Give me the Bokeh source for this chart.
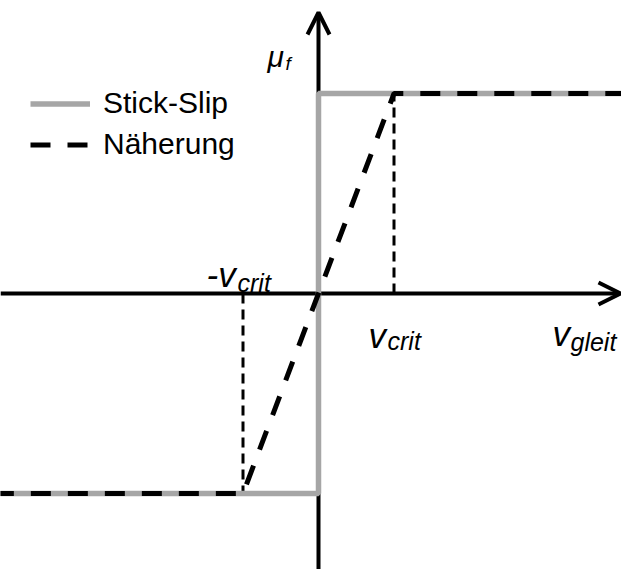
from bokeh.plotting import figure
from bokeh.models import Range1d, Arrow, OpenHead, Label
from bokeh.embed import file_html
from bokeh.resources import INLINE

# Friction characteristic: stick-slip step vs. linear approximation
v_crit = 1.0          # critical sliding speed (normalised)
mu_f = 1.0            # friction coefficient level (normalised)
v_min, v_max = -4.3, 4.2

stick_v = [v_min, 0.0, 0.0, v_max]
stick_mu = [-mu_f, -mu_f, mu_f, mu_f]

approx_v = [v_min, -v_crit, v_crit, v_max]
approx_mu = [-mu_f, -mu_f, mu_f, mu_f]

series_names = ["Stick-Slip", "Näherung"]

W, H = 621, 569
ORIGIN_X, ORIGIN_Y = 318, 293      # canvas position of the origin
SX, SY = 75.5, 200.0               # pixels per unit of v and mu

x_lo, x_hi = -ORIGIN_X / SX, (W - ORIGIN_X) / SX
y_lo, y_hi = -(H - ORIGIN_Y) / SY, ORIGIN_Y / SY


def px_x(px):
    return (px - ORIGIN_X) / SX


def px_y(py):
    return (ORIGIN_Y - py) / SY


p = figure(width=W, height=H, x_range=Range1d(x_lo, x_hi), y_range=Range1d(y_lo, y_hi),
           x_axis_location=None, y_axis_location=None, toolbar_location=None,
           output_backend="svg", min_border=0)
p.grid.visible = False
p.outline_line_color = None
p.background_fill_color = "white"

GRAY = "#a6a6a6"
FONT = "Liberation Sans"

# coordinate axes with open arrow heads, drawn beneath the curves
p.add_layout(Arrow(x_start=x_lo, y_start=0, x_end=px_x(620), y_end=0,
                   line_width=4, line_color="black", level="underlay",
                   end=OpenHead(size=22, line_width=4, line_color="black")))
p.add_layout(Arrow(x_start=0, y_start=y_lo, x_end=0, y_end=px_y(12),
                   line_width=4, line_color="black", level="underlay",
                   end=OpenHead(size=22, line_width=4, line_color="black")))

# guide lines at +/- v_crit
p.segment(x0=[v_crit, -v_crit], y0=[0, 0], x1=[v_crit, -v_crit], y1=[mu_f, -mu_f],
          line_color="black", line_width=3, line_dash="10 6")

p.line(stick_v, stick_mu, line_color=GRAY, line_width=5.5, legend_label=series_names[0])
p.line(approx_v, approx_mu, line_color="black", line_width=5, line_dash="20 17",
       legend_label=series_names[1])

lg = p.legend[0]
lg.location = (30, 404.5)
lg.padding = 0
lg.margin = 0
lg.spacing = 0
lg.glyph_width = 60
lg.glyph_height = 41
lg.label_height = 41
lg.label_standoff = 13
lg.label_text_font = FONT
lg.label_text_font_size = "30px"
lg.label_text_color = "black"
lg.background_fill_alpha = 0
lg.border_line_alpha = 0


def label(px, py, text, size):
    p.add_layout(Label(x=px_x(px), y=px_y(py), text=text, text_font=FONT,
                       text_font_style="italic", text_font_size=size,
                       text_color="black", text_baseline="alphabetic", text_align="left"))


# axis annotations (main symbol + subscript)
label(267, 56, "μ", "30px")
label(285, 63, "f", "19px")

label(206, 274, "-v", "35px")
label(237, 282, "crit", "25px")

label(368, 335, "v", "35px")
label(387, 340, "crit", "25px")

label(552, 333, "v", "35px")
label(570, 341, "gleit", "25px")

open("out.html", "w").write(file_html(p, INLINE))
